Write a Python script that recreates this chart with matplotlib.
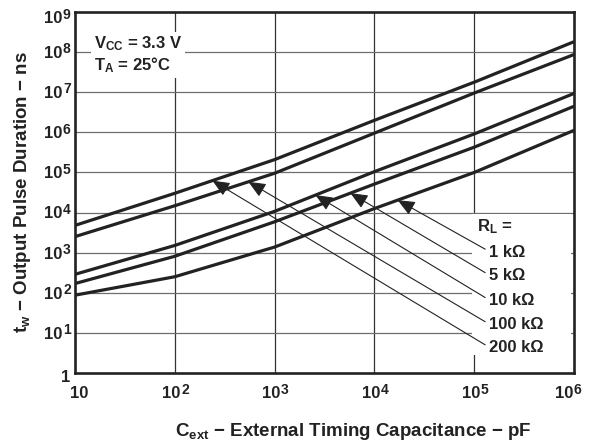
import numpy as np
import matplotlib
matplotlib.use("Agg")
import matplotlib.pyplot as plt
from matplotlib.patches import Rectangle

# ------------------------------------- Data ---------#
cext = [10, 1e2, 1e3, 1e4, 1e5, 1e6]  # pF
# log10 of tw (ns) at each cext point
tw_200k = [3.68, 4.48, 5.32, 6.30, 7.25, 8.26]
tw_100k = [3.40, 4.17, 4.98, 5.98, 6.98, 7.94]
tw_10k = [2.46, 3.18, 4.03, 5.02, 5.96, 6.97]
tw_5k = [2.23, 2.91, 3.77, 4.71, 5.63, 6.65]
tw_1k = [1.94, 2.40, 3.14, 4.10, 5.00, 6.05]

rl_labels = ["1 k\u03a9", "5 k\u03a9", "10 k\u03a9", "100 k\u03a9", "200 k\u03a9"]
curves = [tw_1k, tw_5k, tw_10k, tw_100k, tw_200k]
arrow_x = [17100, 5750, 2570, 546, 238]  # where each arrow touches its curve

x_exp = [1, 2, 3, 4, 5, 6]
y_exp = [0, 1, 2, 3, 4, 5, 6, 7, 8, 9]

# ------------------------------------- Style ----------------------------#
plt.rcParams["font.family"] = ["Liberation Sans", "DejaVu Sans"]
plt.rcParams["font.weight"] = "bold"
plt.rcParams["mathtext.fontset"] = "custom"
plt.rcParams["mathtext.rm"] = "Liberation Sans:bold"
plt.rcParams["mathtext.it"] = "Liberation Sans:bold"
plt.rcParams["mathtext.bf"] = "Liberation Sans:bold"
plt.rcParams["mathtext.default"] = "rm"

ink = "#222222"

fig = plt.figure(figsize=(5.9, 4.45), dpi=100)
ax = fig.add_axes([0.1271, 0.1618, 0.8458, 0.8112])
ax.set_xscale("log")
ax.set_yscale("log")
ax.set_xlim(10.0 ** x_exp[0], 10.0 ** x_exp[-1])
ax.set_ylim(10.0 ** y_exp[0], 10.0 ** y_exp[-1])

# grid: vertical dark, horizontal grey
for k in x_exp[1:-1]:
    ax.axvline(10.0 ** k, color="#333333", lw=0.9, zorder=0.5)
for k in y_exp[1:-1]:
    ax.axhline(10.0 ** k, color="#6e6e6e", lw=0.9, zorder=0.5)

# curves
for c in curves:
    ax.plot(cext, 10 ** np.array(c), color=ink, lw=2.3, solid_capstyle="butt", zorder=3)

# white area behind the R_L labels
ax.add_patch(Rectangle((0.796, 0.05), 0.198, 0.39, transform=ax.transAxes,
                       facecolor="white", edgecolor="none", zorder=1))

# arrows from labels to curves
tail_y = [0.343, 0.278, 0.209, 0.142, 0.078]
for lab, c, xa, ty in zip(rl_labels, curves, arrow_x, tail_y):
    ya = 10 ** np.interp(np.log10(xa), np.log10(cext), c)
    ax.annotate("", xy=(xa, ya), xycoords="data",
                xytext=(0.822, ty), textcoords="axes fraction",
                arrowprops=dict(arrowstyle="-|>,head_length=1.05,head_width=0.45",
                                color=ink, lw=0.8, shrinkA=0, shrinkB=0),
                zorder=4)
    ax.text(0.829, ty - 0.008, lab, transform=ax.transAxes, fontsize=12,
            fontweight="bold", ha="left", va="center", color=ink, zorder=5)

ax.text(0.805, 0.405, "R$_{L}$ =", transform=ax.transAxes, fontsize=12,
        fontweight="bold", ha="left", va="center", color=ink, zorder=5)

ax.text(0.038, 0.937, "V$_{CC}$ = 3.3 V\nT$_{A}$ = 25\u00b0C", transform=ax.transAxes,
        fontsize=12, fontweight="bold", ha="left", va="top", color=ink,
        linespacing=1.12, zorder=2,
        bbox=dict(facecolor="white", edgecolor="none", pad=2))

# ------------------------------------- Tick labels (big superscripts) ---#
ax.set_xticks([])
ax.set_yticks([])
ax.minorticks_off()
ax.tick_params(which="both", length=0)

for i, k in enumerate(x_exp):
    dx = 4.3
    if i == 0:
        dx = 9.4
    elif i == len(x_exp) - 1:
        dx = -0.5
    ax.annotate("10", xy=(10.0 ** k, 0), xycoords=("data", "axes fraction"),
                xytext=(dx, -15), textcoords="offset points", ha="right",
                va="center", fontsize=12, color=ink, annotation_clip=False)
    if k > 1:
        ax.annotate(str(k), xy=(10.0 ** k, 0), xycoords=("data", "axes fraction"),
                    xytext=(dx + 0.2, -12.3), textcoords="offset points", ha="left",
                    va="center", fontsize=10, color=ink, annotation_clip=False)

for k in y_exp:
    if k == 0:
        ax.annotate("1", xy=(0, 1.0), xycoords=("axes fraction", "data"),
                    xytext=(-3.3, -3.5), textcoords="offset points", ha="right",
                    va="center", fontsize=12, color=ink, annotation_clip=False)
        continue
    dy = -5.0 if k == y_exp[-1] else -1.0
    ax.annotate("10", xy=(0, 10.0 ** k), xycoords=("axes fraction", "data"),
                xytext=(-8.8, dy), textcoords="offset points", ha="right",
                va="center", fontsize=12, color=ink, annotation_clip=False)
    ax.annotate(str(k), xy=(0, 10.0 ** k), xycoords=("axes fraction", "data"),
                xytext=(-3.1, dy + 3.0), textcoords="offset points", ha="right",
                va="center", fontsize=10, color=ink, annotation_clip=False)

for s in ax.spines.values():
    s.set_linewidth(1.9)
    s.set_color(ink)
    s.set_zorder(6)

ax.set_xlabel("C$_{ext}$ \u2212 External Timing Capacitance \u2212 pF",
              fontsize=13.5, fontweight="bold", color=ink)
ax.set_ylabel("t$_{w}$ \u2212 Output Pulse Duration \u2212 ns",
              fontsize=13.5, fontweight="bold", color=ink)
ax.xaxis.set_label_coords(0.558, -0.133)
ax.yaxis.set_label_coords(-0.084, 0.5)

fig.savefig("out.png", dpi=100)
